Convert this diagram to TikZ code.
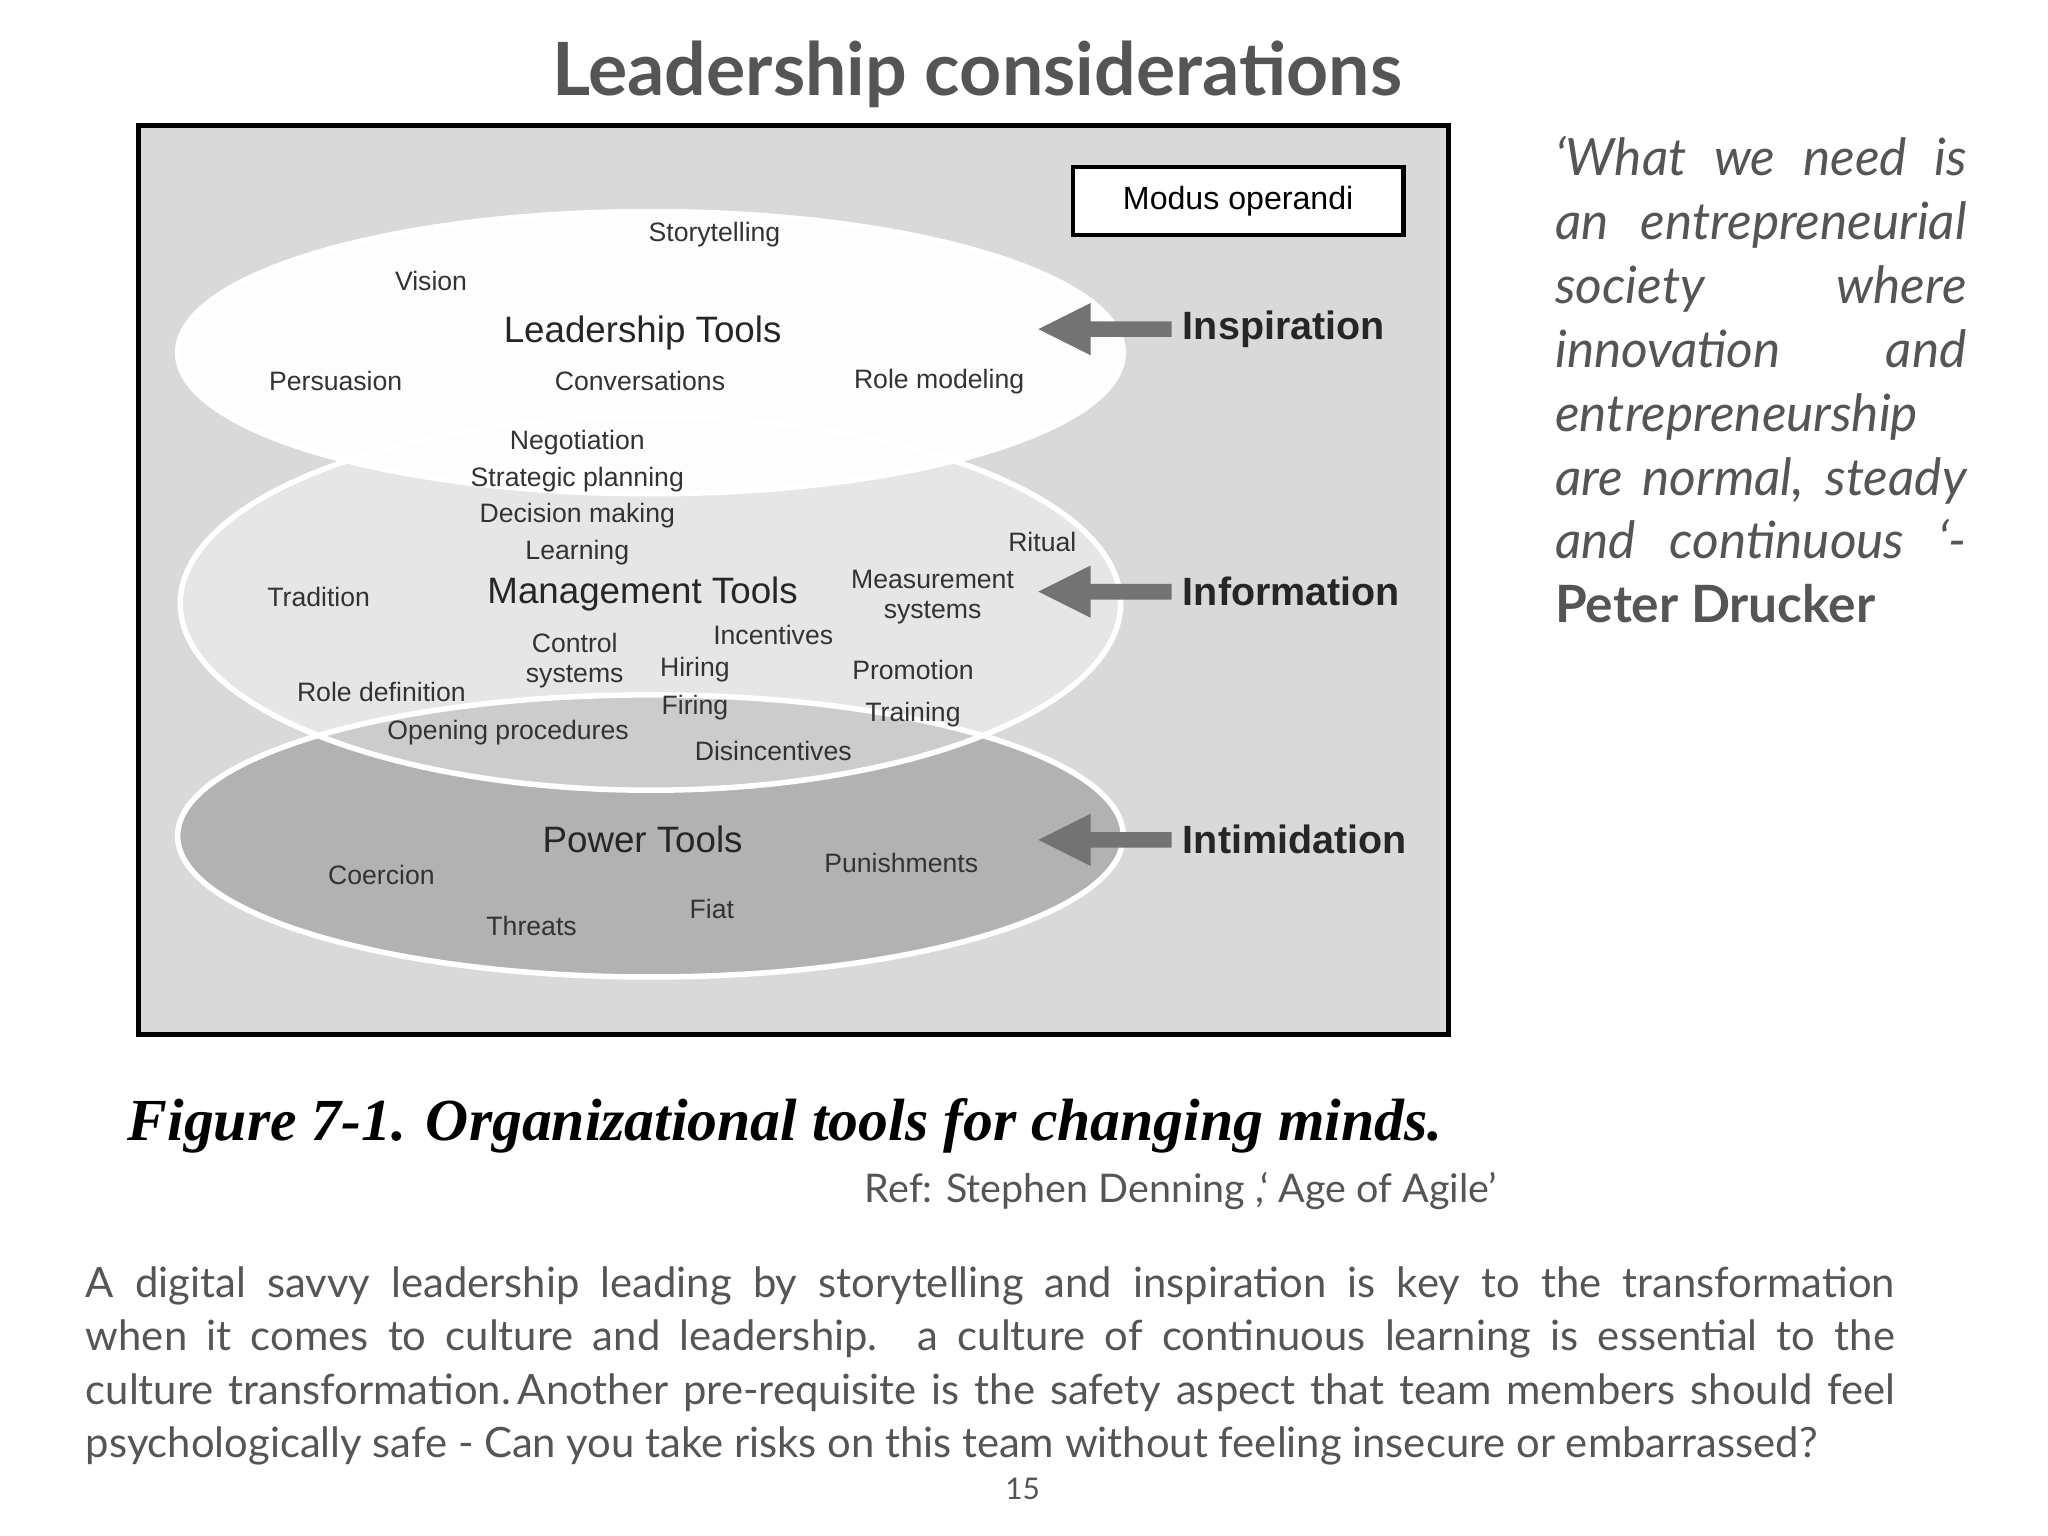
\documentclass[tikz,border=0pt]{standalone}
\usepackage{fontspec}
\setmainfont{Lato}
\newfontfamily\diag{Liberation Sans}
\newfontfamily\capf{Liberation Serif}
\usetikzlibrary{arrows.meta}
\definecolor{txt}{HTML}{333333}
\definecolor{slide}{HTML}{555555}
\hyphenpenalty=10000
\begin{document}
\begin{tikzpicture}[x=0.1mm,y=-0.1mm,
  lab/.style={font=\diag\fontsize{5.8}{6.6}\selectfont, text=txt, align=center, inner sep=0},
  big/.style={font=\diag\fontsize{8}{9}\selectfont, text=black!85, inner sep=0},
  mode/.style={font=\diag\bfseries\fontsize{8.6}{9}\selectfont, text=black!85, anchor=west, inner sep=0}]
\useasboundingbox (0,0) rectangle (1568,1176);
\fill[white] (0,0) rectangle (1568,1176);
\node[font=\bfseries\fontsize{16}{18}\selectfont, text=slide] (title) at (748,57) {Leadership considerations};
% diagram
\draw[line width=1pt, fill=black!15] (106,96) rectangle (1109,792);
\fill[black!30] (498,640) ellipse [x radius=362, y radius=108];
\draw[white, line width=1.2pt] (498,640) ellipse [x radius=362, y radius=108];
\fill[white, opacity=0.95] (498,270) ellipse [x radius=362, y radius=108];
\fill[white, opacity=0.35] (498,462) ellipse [x radius=360, y radius=143];
\draw[white, line width=1.2pt] (498,462) ellipse [x radius=360, y radius=143];
\draw[white, line width=1.2pt] (498,270) ellipse [x radius=362, y radius=108];
\node[draw=black, line width=1pt, fill=white, minimum width=253*0.1mm, minimum height=52*0.1mm, font=\diag\fontsize{7}{8}\selectfont] (mo) at (948,154) {Modus operandi};
\foreach \y/\n/\t in {252/ins/Inspiration,453/inf/Information,643/int/Intimidation}{
  \fill[black!55] (897,\y-6) -- (835,\y-6) -- (835,\y-20) -- (795,\y) -- (835,\y+20) -- (835,\y+6) -- (897,\y+6) -- cycle;
  \node[mode] (\n) at (905,\y) {\t};
}
\node[lab] (a1) at (547,180) {Storytelling};
\node[lab] (a2) at (330,215) {Vision};
\node[big] (lt) at (492,255) {Leadership Tools};
\node[lab] (a3) at (257,292) {Persuasion};
\node[lab] (a4) at (490,292) {Conversations};
\node[lab] (a5) at (719,292) {Role modeling};
\node[lab] (b1) at (442,339) {Negotiation};
\node[lab] (b2) at (442,367) {Strategic planning};
\node[lab] (b3) at (442,395) {Decision making};
\node[lab] (b4) at (442,423) {Learning};
\node[lab] (b5) at (798,415) {Ritual};
\node[lab] (b6) at (244,457) {Tradition};
\node[big] (mt) at (492,455) {Management Tools};
\node[lab] (b7) at (714,457) {Measurement\\systems};
\node[lab] (b8) at (440,506) {Control\\systems};
\node[lab] (b9) at (592,486) {Incentives};
\node[lab] (c1) at (532,513) {Hiring};
\node[lab] (c2) at (532,542) {Firing};
\node[lab] (c3) at (699,513) {Promotion};
\node[lab] (c4) at (699,547) {Training};
\node[lab] (c5) at (292,530) {Role definition};
\node[lab] (c6) at (389,561) {Opening procedures};
\node[lab] (c7) at (592,575) {Disincentives};
\node[big] (pt) at (492,643) {Power Tools};
\node[lab] (d1) at (690,661) {Punishments};
\node[lab] (d2) at (292,670) {Coercion};
\node[lab] (d3) at (545,696) {Fiat};
\node[lab] (d4) at (407,709) {Threats};
% caption
\node[anchor=west, inner sep=0, font=\capf\bfseries\itshape\fontsize{13}{14}\selectfont] (cap) at (97,862) {Figure 7-1. Organizational tools for changing minds.};
\node[anchor=east, inner sep=0, text=slide, font=\fontsize{8.6}{10}\selectfont] (ref) at (1147,912) {Ref: Stephen Denning ,‘ Age of Agile’};
% quote
\node[anchor=north west, inner sep=0, text=slide, text width=315*0.1mm, align=justify, font=\itshape\fontsize{11.2}{13.9}\selectfont] (quote) at (1190,104) {‘What we need is\linebreak an entrepreneurial\linebreak society where\linebreak innovation and\linebreak entrepreneurship\linebreak are normal, steady\linebreak and continuous ‘-\linebreak {\upshape\bfseries Peter Drucker}};
% paragraph
\node[anchor=north west, inner sep=0, text=slide, text width=1385*0.1mm, align=justify, font=\fontsize{9.1}{11.66}\selectfont] (para) at (65,969) {A digital savvy leadership leading by storytelling and inspiration is key to the transformation\linebreak when it comes to culture and leadership. a culture of continuous learning is essential to the\linebreak culture transformation.\,Another pre-requisite is the safety aspect that team members should feel\linebreak psychologically safe - Can you take risks on this team without feeling insecure or embarrassed?};
\node[text=slide, font=\fontsize{6.5}{7}\selectfont, inner sep=0] (pg) at (783,1140) {15};
\end{tikzpicture}
\end{document}
